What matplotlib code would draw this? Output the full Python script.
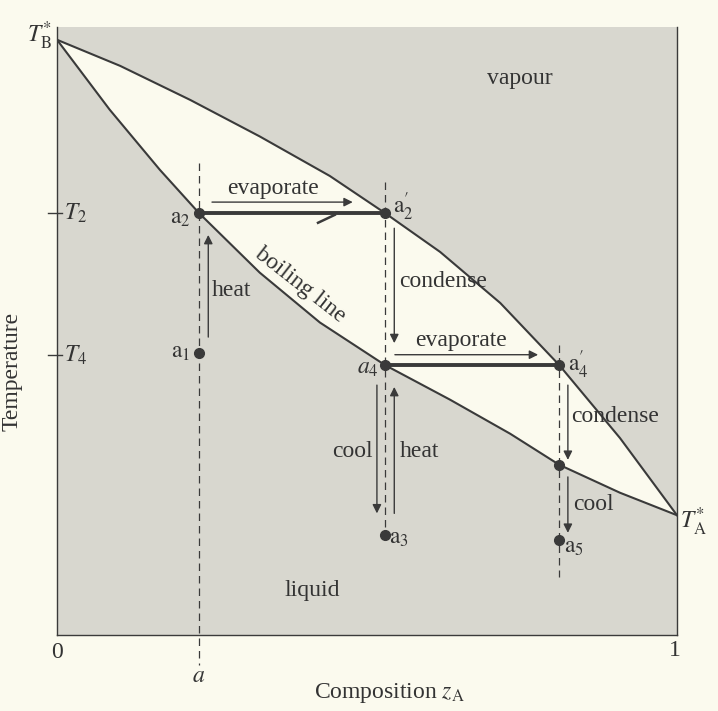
"""
Boiling-point diagram of an ideal binary mixture (fractional distillation)
"""

import matplotlib.pyplot as plt
import matplotlib

matplotlib.rcParams['font.family'] = ['Liberation Serif', 'DejaVu Serif']
matplotlib.rcParams['mathtext.fontset'] = 'stix'

# vapour (dew) curve
dew_x = [0.0, 0.102, 0.215, 0.327, 0.440, 0.529, 0.618, 0.715, 0.810, 0.908, 1.0]
dew_T = [0.979, 0.936, 0.880, 0.820, 0.755, 0.694, 0.630, 0.546, 0.444, 0.324, 0.197]

# liquid (boiling) curve
liq_x = [0.0, 0.085, 0.166, 0.229, 0.327, 0.424, 0.529, 0.634, 0.731, 0.810, 0.908, 1.0]
liq_T = [0.979, 0.864, 0.765, 0.694, 0.596, 0.514, 0.444, 0.387, 0.331, 0.280, 0.234, 0.197]

# state points
comp_a = 0.229
comp_4 = 0.529
comp_5 = 0.810
T2 = 0.694
T4 = 0.46
T_tie4 = 0.444
pt_names = ['a1', 'a2', 'a2p', 'a4', 'a4p', 'l5', 'a3', 'a5']
pt_x = [comp_a, comp_a, comp_4, comp_4, comp_5, comp_5, comp_4, comp_5]
pt_T = [0.464, T2, T2, T_tie4, T_tie4, 0.280, 0.164, 0.156]

# colours
paper = '#fbfaee'
shade = '#d8d7cf'
ink = '#3a3a3a'
text_c = '#333333'

fig = plt.figure(figsize=(7.18, 7.11), dpi=100, facecolor=paper)
ax = fig.add_axes([57 / 718, 76 / 711, 620 / 718, 608 / 711])
ax.set_facecolor(shade)
ax.set_xlim(0, 1)
ax.set_ylim(0, 1)

# two-phase region (white lens)
ax.fill(dew_x + liq_x[::-1], dew_T + liq_T[::-1], color=paper, zorder=1, lw=0)
ax.plot(dew_x, dew_T, color=ink, lw=1.5, zorder=3)
ax.plot(liq_x, liq_T, color=ink, lw=1.5, zorder=3)

# tie lines
ax.plot([comp_a, comp_4], [T2, T2], color=ink, lw=2.8, zorder=4)
ax.plot([comp_4, comp_5], [T_tie4, T_tie4], color=ink, lw=2.8, zorder=4)
ax.plot([0.421, 0.448], [0.678, 0.691], color=ink, lw=1.8, zorder=4)

# dashed isopleths
dash = dict(color=ink, lw=0.9, ls=(0, (6, 4)), zorder=2)
ax.plot([comp_a, comp_a], [0.776, -0.049], clip_on=False, **dash)
ax.plot([comp_4, comp_4], [0.745, 0.164], **dash)
ax.plot([comp_5, comp_5], [0.477, 0.095], **dash)

# points
ax.plot(pt_x, pt_T, 'o', color=ink, ms=7, zorder=5)

# arrows with labels
arrows = [
    ((0.250, 0.712), (0.477, 0.712), 'evaporate', (0.348, 0.735)),
    ((0.244, 0.490), (0.244, 0.658), 'heat', (0.282, 0.566)),
    ((0.544, 0.669), (0.544, 0.480), 'condense', (0.623, 0.581)),
    ((0.545, 0.461), (0.776, 0.461), 'evaporate', (0.652, 0.485)),
    ((0.824, 0.411), (0.824, 0.288), 'condense', (0.900, 0.360)),
    ((0.824, 0.260), (0.824, 0.168), 'cool', (0.865, 0.214)),
    ((0.516, 0.411), (0.516, 0.200), 'cool', (0.476, 0.301)),
    ((0.544, 0.200), (0.544, 0.408), 'heat', (0.585, 0.301)),
]
for start, end, label, pos in arrows:
    ax.annotate('', xy=end, xytext=start,
                arrowprops=dict(arrowstyle='-|>', color=ink, lw=1.0,
                                mutation_scale=13, shrinkA=0, shrinkB=0),
                zorder=4)
    ax.text(pos[0], pos[1], label, ha='center', va='center', fontsize=17,
            color=text_c, zorder=6)

ax.text(0.392, 0.576, 'boiling line', rotation=-38, ha='center', va='center',
        fontsize=17, color=text_c, zorder=6)
ax.text(0.747, 0.916, 'vapour', ha='center', va='center', fontsize=17, color=text_c)
ax.text(0.411, 0.074, 'liquid', ha='center', va='center', fontsize=17, color=text_c)

# point labels
labels = {
    'a1': (r'$\mathrm{a}_1$', (-9, 0), 'right'),
    'a2': (r'$\mathrm{a}_2$', (-8, -5), 'right'),
    'a2p': (r'$\mathrm{a}_2^{\prime}$', (8, 6), 'left'),
    'a4': (r'$a_4$', (-6, -3), 'right'),
    'a4p': (r'$\mathrm{a}_4^{\prime}$', (9, 0), 'left'),
    'a3': (r'$\mathrm{a}_3$', (4, -3), 'left'),
    'a5': (r'$\mathrm{a}_5$', (5, -7), 'left'),
}
for name, x, T in zip(pt_names, pt_x, pt_T):
    if name in labels:
        txt, off, ha = labels[name]
        ax.annotate(txt, (x, T), xytext=off, textcoords='offset pixels',
                    ha=ha, va='center', fontsize=17, color=text_c, zorder=6)

# temperature marks
ax.text(-0.008, 0.985, r'$T^{*}_{\mathrm{B}}$', ha='right', va='center',
        fontsize=17, color=text_c)
ax.text(1.005, 0.186, r'$T^{*}_{\mathrm{A}}$', ha='left', va='center',
        fontsize=17, color=text_c)
for val, name in [(T2, r'$T_2$'), (T4, r'$T_4$')]:
    ax.plot([-0.0145, 0.008], [val, val], color=ink, lw=1.0, clip_on=False)
    ax.text(0.011, val, name, ha='left', va='center', fontsize=17, color=text_c)

# axis decorations
ax.set_xticks([])
ax.set_yticks([])
ax.spines['top'].set_visible(False)
for side in ['left', 'bottom', 'right']:
    ax.spines[side].set_color(ink)
    ax.spines[side].set_linewidth(1.0)

ax.text(0.0, -0.028, '0', ha='center', va='center', fontsize=17, color=text_c)
ax.text(0.997, -0.025, '1', ha='center', va='center', fontsize=17, color=text_c)
ax.text(comp_a, -0.069, r'$a$', ha='center', va='center', fontsize=17, color=text_c)
ax.text(0.537, -0.095, r'Composition $z_{\mathrm{A}}$', ha='center', va='center',
        fontsize=17, color=text_c)
ax.text(-0.073, 0.433, 'Temperature', rotation=90, ha='center', va='center',
        fontsize=17, color=text_c)

plt.savefig('out.png', dpi=100, facecolor=paper)
plt.close()
